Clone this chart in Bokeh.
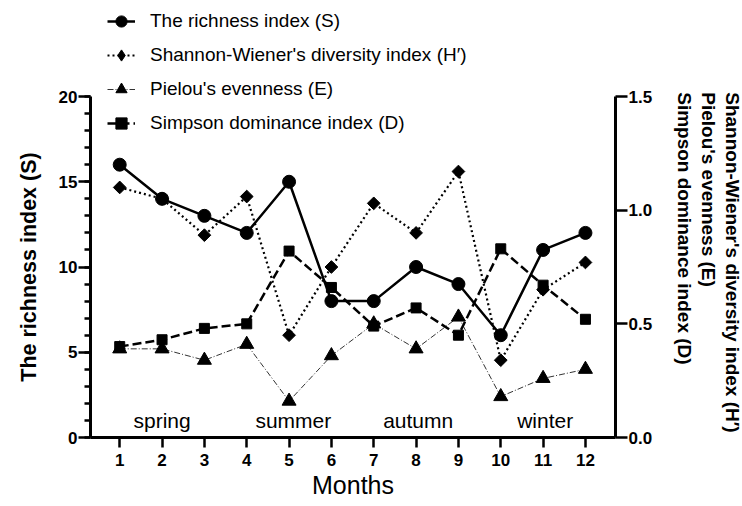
import math
from bokeh.plotting import figure
from bokeh.layouts import row
from bokeh.models import (Range1d, LinearAxis, Legend, LegendItem, FixedTicker,
                          ColumnDataSource, PrintfTickFormatter)
from bokeh.core.properties import value
from bokeh.embed import file_html
from bokeh.resources import INLINE

# ---------------- data ----------------
months = list(range(1, 13))
richness_S = [16, 14, 13, 12, 15, 8, 8, 10, 9, 6, 11, 12]
shannon_H = [1.10, 1.05, 0.89, 1.06, 0.45, 0.75, 1.03, 0.90, 1.17, 0.34, 0.65, 0.77]
pielou_E = [0.39, 0.39, 0.34, 0.41, 0.16, 0.36, 0.50, 0.39, 0.53, 0.18, 0.26, 0.30]
simpson_D = [0.40, 0.43, 0.48, 0.50, 0.82, 0.66, 0.49, 0.57, 0.45, 0.83, 0.67, 0.52]

season_names = ["spring", "summer", "autumn", "winter"]
left_ticks = [0, 5, 10, 15, 20]
left_minor_ticks = list(range(0, 21))
right_ticks = [0.0, 0.5, 1.0, 1.5]

x_title = "Months"
left_title = "The richness index (S)"
right_title_lines = ["Shannon-Wiener's diversity index (H\u2032)",
                     "Pielou's evenness (E)",
                     "Simpson dominance index (D)"]
legend_labels = ["The richness index (S)",
                 "Shannon-Wiener's diversity index (H\u2032)",
                 "Pielou's evenness (E)",
                 "Simpson dominance index (D)"]

# ---------------- layout constants ----------------
FONT = "Liberation Sans"
H = 506
LW, PW, RW = 50, 605, 87            # widths of left title strip, plot, right title strip
BL, BR = 40, 40                     # plot borders left / right
FB = 437                            # expected frame bottom (px from top)
PX_PER_Y = 17.05
X_LO, X_HI = 0.31, 12.71
Y_HI = FB / PX_PER_Y
R_HI = Y_HI * 1.5 / 20.0

p = figure(width=PW, height=H, x_range=Range1d(X_LO, X_HI), y_range=Range1d(0, Y_HI),
           output_backend="svg", toolbar_location=None,
           min_border_left=BL, min_border_right=BR,
           min_border_top=0, min_border_bottom=H - FB)
p.extra_y_ranges = {"right": Range1d(0, R_HI)}
p.outline_line_color = None
p.xgrid.visible = False
p.ygrid.visible = False


def style_axis(ax):
    ax.axis_line_width = 3
    ax.axis_line_color = "black"
    ax.major_tick_line_width = 2.5
    ax.major_tick_line_color = "black"
    ax.minor_tick_line_width = 2.5
    ax.minor_tick_line_color = "black"
    ax.major_tick_in = 0
    ax.minor_tick_in = 0
    ax.major_label_text_font = FONT
    ax.major_label_text_font_size = "17px"
    ax.major_label_text_font_style = "bold"
    ax.major_label_text_color = "black"
    ax.axis_label_text_font = FONT
    ax.axis_label_text_color = "black"


xa = p.xaxis[0]
style_axis(xa)
xa.ticker = FixedTicker(ticks=months)
xa.major_tick_out = 10
xa.minor_tick_line_color = None
xa.major_label_standoff = 6
xa.axis_label = x_title
xa.axis_label_text_font_size = "25px"
xa.axis_label_text_font_style = "normal"
xa.axis_label_standoff = 2

ya = p.yaxis[0]
style_axis(ya)
ya.ticker = FixedTicker(ticks=left_ticks, minor_ticks=left_minor_ticks)
ya.bounds = (0, 20)
ya.major_tick_out = 12
ya.minor_tick_out = 6
ya.major_label_standoff = 1

ra = LinearAxis(y_range_name="right",
                ticker=FixedTicker(ticks=right_ticks, minor_ticks=[]),
                formatter=PrintfTickFormatter(format="%.1f"))
style_axis(ra)
ra.bounds = (0, 1.5)
ra.major_tick_out = 12
ra.minor_tick_line_color = None
ra.major_label_standoff = 1
p.add_layout(ra, "right")

# ---------------- series ----------------
r_s_line = p.line(months, richness_S, line_color="black", line_width=2.5)
r_s_pts = p.scatter(months, richness_S, marker="circle", size=13, color="black")

r_h_line = p.line(months, shannon_H, y_range_name="right", line_color="black",
                  line_width=2.2, line_dash="2 3")
r_h_pts = p.scatter(months, shannon_H, y_range_name="right", marker="square",
                    angle=math.pi / 4, size=9, color="black")
# legend-only diamond (the legend never rotates markers)
r_h_key = p.scatter(months, shannon_H, y_range_name="right", marker="diamond",
                    size=13, color="black", visible=False)

r_e_line = p.line(months, pielou_E, y_range_name="right", line_color="#333333",
                  line_width=1, line_dash="6 2 1 2")
r_e_pts = p.scatter(months, pielou_E, y_range_name="right", marker="triangle",
                    size=14, color="black")

r_d_line = p.line(months, simpson_D, y_range_name="right", line_color="black",
                  line_width=2.5, line_dash="9 4")
r_d_pts = p.scatter(months, simpson_D, y_range_name="right", marker="square",
                    size=10, color="black")

GLYPH = 28
SPACING = 6
leg_h = 4 * GLYPH + 3 * SPACING
leg_top = 20.7 - GLYPH / 2
legend = Legend(items=[
    LegendItem(label=legend_labels[0], renderers=[r_s_line, r_s_pts]),
    LegendItem(label=legend_labels[1], renderers=[r_h_line, r_h_key]),
    LegendItem(label=legend_labels[2], renderers=[r_e_line, r_e_pts]),
    LegendItem(label=legend_labels[3], renderers=[r_d_line, r_d_pts]),
], location=(17, int(round(FB - leg_top - leg_h))), glyph_width=GLYPH, glyph_height=GLYPH,
    label_height=GLYPH, label_standoff=15, spacing=SPACING, padding=0, margin=0,
    border_line_color=None, background_fill_alpha=0, inactive_fill_alpha=0,
    label_text_font=FONT, label_text_font_size="19px", label_text_color="black")
p.add_layout(legend)

# ---------------- season labels ----------------
season_src = ColumnDataSource(dict(x=[2.0, 5.1, 8.05, 11.05], y=[1.0] * 4, t=season_names))
p.text(x="x", y="y", text="t", source=season_src, text_align="center",
       text_baseline="middle", text_font=value(FONT), text_font_size="21px",
       text_color="black")


# ---------------- side strips holding the axis titles ----------------
# (a row aligns the frames, so the strips share the plot's vertical scale)
def strip(width):
    f = figure(width=width, height=H, x_range=Range1d(0, width), y_range=Range1d(0, Y_HI),
               output_backend="svg", toolbar_location=None, min_border=0,
               x_axis_location=None, y_axis_location=None)
    f.outline_line_color = None
    f.grid.visible = False
    return f


left_fig = strip(LW)
left_fig.text(x=[28], y=[10], text=[left_title], angle=math.pi / 2,
              text_align="center", text_baseline="middle", text_font=value(FONT),
              text_font_size="21.5px", text_font_style="bold", text_color="black")

right_fig = strip(RW)
right_fig.text(x=[77, 52.5, 29], y=[20.25] * 3, text=right_title_lines, angle=-math.pi / 2,
               text_align="left", text_baseline="middle", text_font=value(FONT),
               text_font_size="19px", text_font_style="bold", text_color="black")

layout = row(left_fig, p, right_fig, spacing=0)
open("out.html", "w").write(file_html(layout, INLINE))
